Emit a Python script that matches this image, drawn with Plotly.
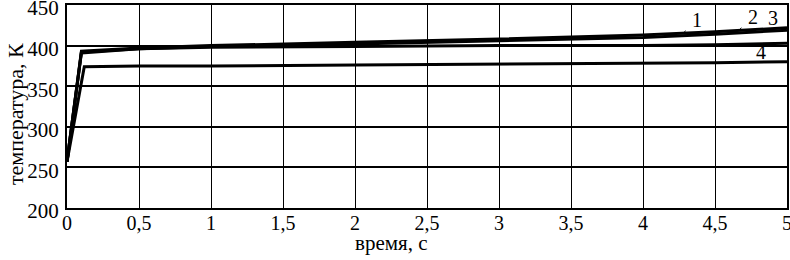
import plotly.graph_objects as go

# Data
t1 = [0, 0.1, 0.5, 1, 2, 3, 4, 4.5, 5]
T1 = [257, 393, 397, 400, 404, 408, 413, 417, 422]
t2 = [0, 0.1, 0.5, 1, 2, 3, 4, 4.5, 5]
T2 = [257, 392, 396, 399, 402, 406, 410, 414, 419]
t3 = [0, 0.1, 0.5, 1, 2, 3, 4, 4.5, 5]
T3 = [257, 391, 396, 398, 399, 400, 400, 401, 403]
t4 = [0, 0.12, 0.5, 1, 2, 3, 4, 4.5, 5]
T4 = [257, 374, 375, 375, 376, 377, 378, 379, 380]

x_tickvals = [0, 0.5, 1, 1.5, 2, 2.5, 3, 3.5, 4, 4.5, 5]
x_ticktext = ["0", "0,5", "1", "1,5", "2", "2,5", "3", "3,5", "4", "4,5", "5"]
y_tickvals = [200, 250, 300, 350, 400, 450]

FONT = "Liberation Serif, Times New Roman, serif"

fig = go.Figure()
for tx, ty in [(t1, T1), (t2, T2), (t3, T3), (t4, T4)]:
    fig.add_trace(go.Scatter(x=tx, y=ty, mode="lines",
                             line=dict(color="black", width=3),
                             showlegend=False, hoverinfo="skip"))

ann = [
    dict(x=4.28, y=415.5, text="1", ax=14, ay=-13),
    dict(x=4.66, y=418, text="2", ax=15, ay=-14),
]
for a in ann:
    fig.add_annotation(x=a["x"], y=a["y"], text=a["text"], ax=a["ax"], ay=a["ay"],
                       showarrow=True, arrowhead=0, arrowwidth=1, arrowcolor="black",
                       standoff=0, startstandoff=7,
                       font=dict(family=FONT, size=20, color="black"))
fig.add_annotation(x=4.9, y=434, text="3", showarrow=False,
                   font=dict(family=FONT, size=20, color="black"))
fig.add_annotation(x=4.82, y=392, text="4", showarrow=False,
                   font=dict(family=FONT, size=20, color="black"))

# axis titles
fig.add_annotation(xref="paper", yref="paper", x=0.45, y=-0.172,
                   text="время, с", showarrow=False,
                   xanchor="center", yanchor="middle",
                   font=dict(family=FONT, size=21, color="black"))
fig.add_annotation(xref="paper", yref="paper", x=-0.0722, y=0.463,
                   text="температура, К", showarrow=False, textangle=-90,
                   xanchor="center", yanchor="middle",
                   font=dict(family=FONT, size=22, color="black"))

fig.update_layout(
    width=790, height=260,
    margin=dict(l=67, r=3, t=5, b=52),
    paper_bgcolor="white", plot_bgcolor="white",
    font=dict(family=FONT, size=20, color="black"),
)
fig.update_xaxes(range=[0, 5], tickvals=x_tickvals, ticktext=x_ticktext,
                 showgrid=True, gridcolor="black", gridwidth=1,
                 showline=True, linecolor="black", linewidth=2, mirror=True,
                 ticks="", zeroline=False, automargin=False,
                 ticklabeloverflow="allow", ticklabelstandoff=-4,
                 tickfont=dict(family=FONT, size=20))
fig.update_yaxes(range=[200, 450], tickvals=y_tickvals,
                 showgrid=True, gridcolor="black", gridwidth=1.5,
                 showline=True, linecolor="black", linewidth=2, mirror=True,
                 ticks="", zeroline=False, automargin=False, ticklabelstandoff=2,
                 ticklabeloverflow="allow", ticklabelshift=3,
                 tickfont=dict(family=FONT, size=21))

fig.write_html("out.html", config={"displayModeBar": False},
               post_script="document.body.style.margin='0';document.body.style.overflow='hidden';")
